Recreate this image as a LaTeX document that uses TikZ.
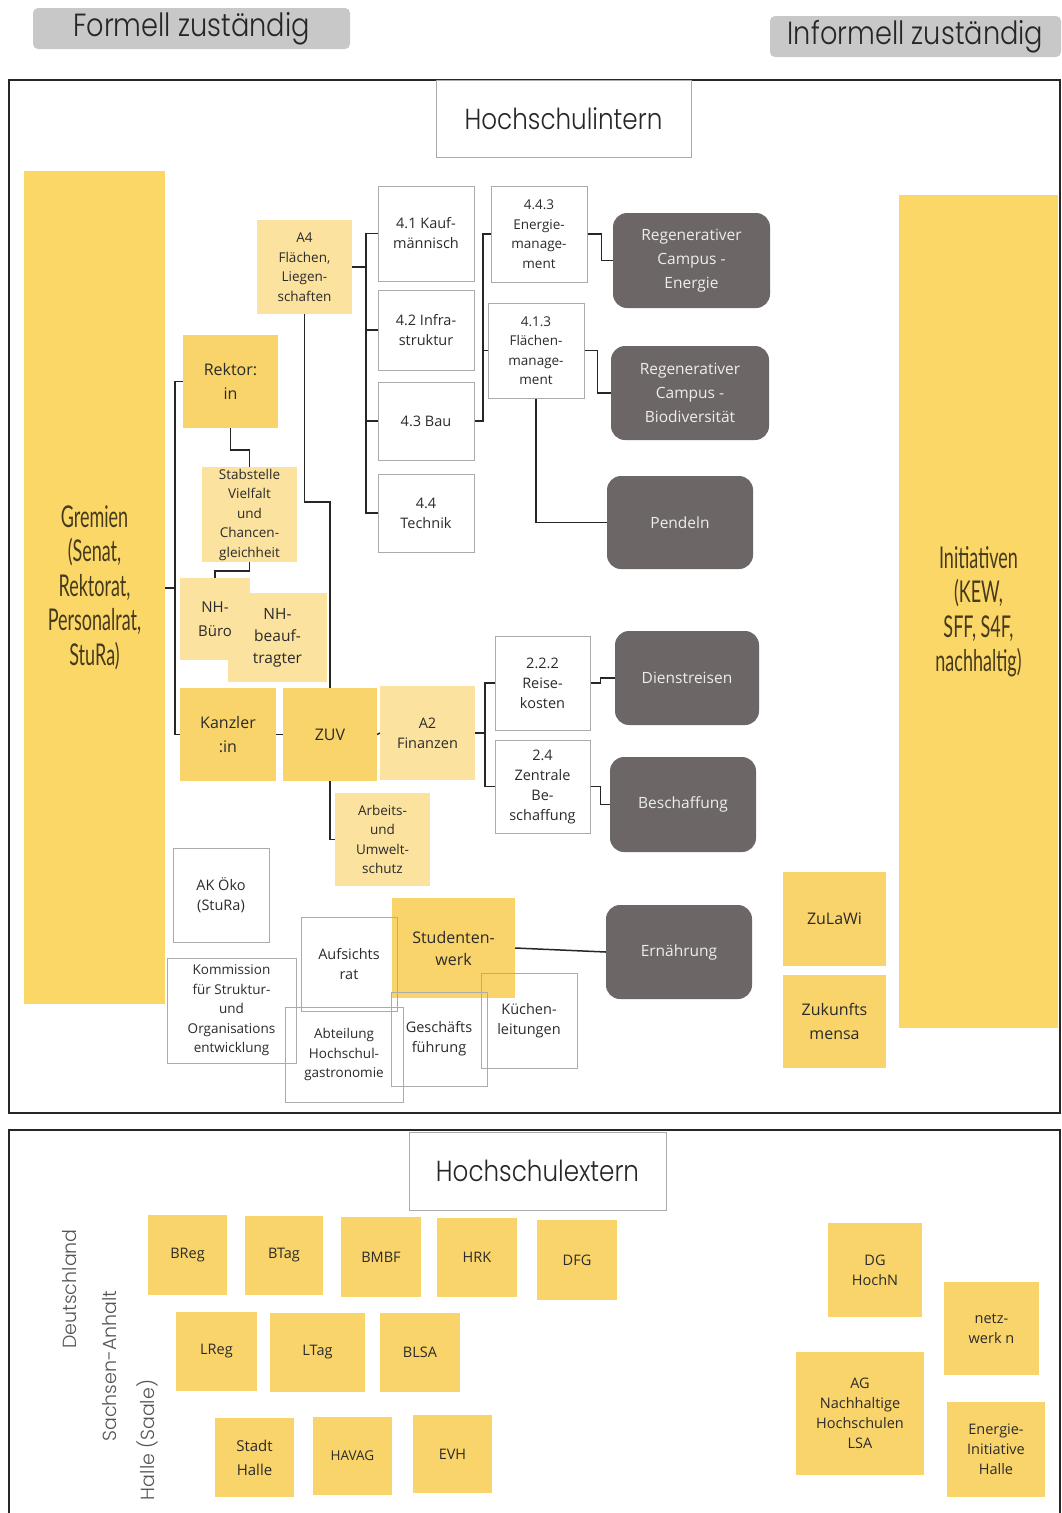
\documentclass[tikz,border=0pt]{standalone}
\usepackage{fontspec}
\setmainfont{Open Sans}
\newfontfamily\headfont[FakeStretch=0.85, UprightFont={* Light}]{Poppins}
\newfontfamily\geofont[UprightFont={* Light}]{Poppins}
\newfontfamily\condfont[FakeStretch=0.6]{Lato}
\definecolor{ystrong}{HTML}{F9D46A}
\definecolor{ylight}{HTML}{FBE29E}
\definecolor{ybig}{HTML}{FBD767}
\definecolor{darkbox}{HTML}{6C6766}
\definecolor{darktext}{HTML}{EDEDED}
\definecolor{boxline}{HTML}{ABABAB}
\definecolor{headgray}{HTML}{C8C8C8}
\definecolor{txt}{HTML}{2B2B2B}
\definecolor{bigtxt}{HTML}{453A1C}
\definecolor{sidetxt}{HTML}{555555}
\tikzset{
  base/.style={inner sep=0pt, align=center, text=txt, font=\fontsize{14.5}{20}\selectfont},
  fsmall/.style={font=\fontsize{13.5}{19.5}\selectfont},
  flarge/.style={font=\fontsize{16}{24}\selectfont},
  ys/.style={base, fill=ystrong},
  yl/.style={base, fill=ylight},
  wb/.style={base, draw=boxline, line width=1pt},
  db/.style={base, fill=darkbox, rounded corners=14pt, text=darktext, font=\fontsize{15.5}{24}\selectfont},
  hd/.style={inner sep=0pt, fill=headgray, rounded corners=5pt, text=black!85, font=\headfont\fontsize{32}{36}\selectfont},
  titlebox/.style={inner sep=0pt, draw=boxline, line width=1pt, fill=white, text=black!85, font=\headfont\fontsize{29}{32}\selectfont},
  bigy/.style={inner sep=0pt, align=center, fill=ybig, text=bigtxt, font=\condfont\fontsize{30}{34.5}\selectfont},
  side/.style={inner sep=0pt, rotate=90, text=sidetxt, font=\geofont\fontsize{19}{22}\selectfont},
  conn/.style={draw=black!85, line width=1.5pt},
  frame/.style={draw=black!85, line width=1.2pt}
}
\begin{document}
\begin{tikzpicture}[x=1pt,y=-1pt]
\useasboundingbox[fill=white] (0,0) rectangle (1061,1513);

% header labels
\node[hd, minimum width=317pt, minimum height=41pt] (formell) at (191.5,28.5) {\raisebox{-3pt}{Formell zuständig}};
\node[hd, minimum width=291pt, minimum height=41pt] (informell) at (915.5,36.5) {\raisebox{-3pt}{Informell zuständig}};

% frame 1
\draw[frame] (9,80) rectangle (1060,1113);
\node[titlebox, minimum width=255pt, minimum height=77pt] (hsintern) at (563.5,118.5) {Hochschulintern};

\node[bigy, minimum width=141pt, minimum height=833pt] (gremien) at (94.5,587.5) {Gremien\\(Senat,\\Rektorat,\\Personalrat,\\StuRa)};
\node[bigy, minimum width=159pt, minimum height=833pt] (initiativen) at (978.5,611.5) {Initiativen\\(KEW,\\SFF, S4F,\\nachhaltig)};

% yellow boxes
\node[yl, fsmall, minimum width=95pt, minimum height=94pt] (a4) at (304.5,267) {A4\\Flächen,\\Liegen-\\schaften};
\node[ys, flarge, minimum width=95pt, minimum height=93pt] (rektor) at (230.5,381.5) {Rektor:\\in};
\node[yl, fsmall, minimum width=95pt, minimum height=95pt] (stab) at (249.5,514.5) {Stabstelle\\Vielfalt\\und\\Chancen-\\gleichheit};
\node[yl, minimum width=99pt, minimum height=89pt, font=\fontsize{15.5}{22}\selectfont] (nhbe) at (277.5,637.5) {NH-\\beauf-\\tragter};
\node[yl, minimum width=70pt, minimum height=82pt, font=\fontsize{15}{24}\selectfont] (nhb) at (215,619) {NH-\\Büro};
\node[ys, flarge, minimum width=96pt, minimum height=93pt] (kanzler) at (228,734.5) {Kanzler\\:in};
\node[ys, flarge, minimum width=94pt, minimum height=93pt] (zuv) at (330,734.5) {ZUV};
\node[yl, minimum width=95pt, minimum height=94pt] (a2) at (427.5,733) {A2\\Finanzen};
\node[yl, fsmall, minimum width=95pt, minimum height=93pt] (arbeit) at (382.5,839.5) {Arbeits-\\und\\Umwelt-\\schutz};
\node[ys, minimum width=123pt, minimum height=100pt, font=\fontsize{16}{22}\selectfont] (stw) at (453.5,948) {Studenten-\\werk};
\node[ys, flarge, minimum width=103pt, minimum height=94pt] (zulawi) at (834.5,919) {ZuLaWi};
\node[ys, flarge, minimum width=103pt, minimum height=93pt] (zukm) at (834.5,1021.5) {Zukunfts\\mensa};

% white boxes
\node[wb, minimum width=96pt, minimum height=95pt] (k41) at (426,233.5) {4.1 Kauf-\\männisch};
\node[wb, minimum width=96pt, minimum height=80pt] (k42) at (426,330) {4.2 Infra-\\struktur};
\node[wb, minimum width=96pt, minimum height=78pt] (k43) at (426,421) {4.3 Bau};
\node[wb, minimum width=96pt, minimum height=78pt] (k44) at (426,513) {4.4\\Technik};
\node[wb, fsmall, minimum width=96pt, minimum height=96pt] (k443) at (539,234) {4.4.3\\Energie-\\manage-\\ment};
\node[wb, fsmall, minimum width=96pt, minimum height=95pt] (k413) at (536,350.5) {4.1.3\\Flächen-\\manage-\\ment};
\node[wb, minimum width=95pt, minimum height=94pt] (r222) at (542.5,683) {2.2.2\\Reise-\\kosten};
\node[wb, minimum width=95pt, minimum height=93pt] (z24) at (542.5,786.5) {2.4\\Zentrale\\Be-\\schaffung};
\node[wb, minimum width=96pt, minimum height=94pt] (akoeko) at (221,895) {AK Öko\\(StuRa)};
\node[wb, fsmall, minimum width=129pt, minimum height=105pt] (komm) at (231.5,1010.5) {Kommission\\für Struktur-\\und\\Organisations\\entwicklung};
\node[wb, minimum width=96pt, minimum height=94pt] (aufs) at (349,964) {Aufsichts\\rat};
\node[wb, fsmall, minimum width=118pt, minimum height=95pt] (abt) at (344,1054.5) {Abteilung\\Hochschul-\\gastronomie};
\node[wb, minimum width=96pt, minimum height=94pt] (gesch) at (439,1039) {Geschäfts\\führung};
\node[wb, minimum width=96pt, minimum height=95pt] (kuech) at (529,1020.5) {Küchen-\\leitungen};

% dark boxes
\node[db, minimum width=157pt, minimum height=95pt] (regE) at (691.5,260.5) {Regenerativer\\Campus -\\Energie};
\node[db, minimum width=158pt, minimum height=94pt] (regB) at (690,393) {Regenerativer\\Campus -\\Biodiversität};
\node[db, minimum width=146pt, minimum height=93pt] (pend) at (680,522.5) {Pendeln};
\node[db, minimum width=144pt, minimum height=94pt] (dienst) at (687,678) {Dienstreisen};
\node[db, minimum width=146pt, minimum height=95pt] (besch) at (683,804.5) {Beschaffung};
\node[db, minimum width=146pt, minimum height=94pt] (ern) at (679,952) {Ernährung};

% connectors
\coordinate (busA) at (366,0);
\coordinate (busB) at (483,0);
\coordinate (busC) at (485,0);
\coordinate (gstub) at (175,588);
\draw[conn] (a4.east) -- (a4.east -| busA);
\draw[conn] (k41.west) -| (busA |- k44.west) -- (k44.west);
\draw[conn] (k42.west) -- (k42.west -| busA);
\draw[conn] (k43.west) -- (k43.west -| busA);
\draw[conn] (k43.east) -| (busB |- k443.west) -- (k443.west);
\draw[conn] (k413.west) -- (k413.west -| busB);
\draw[conn] (k443.east) -- ++(14,0) |- (regE.west);
\draw[conn] (k413.east) -- ++(13,0) |- (regB.west);
\draw[conn] (k413.south) |- (pend.west);
\draw[conn] (rektor.west) -- ++(-8,0) |- (kanzler.west);
\draw[conn] (gremien.east |- gstub) -- (gstub);
\draw[conn] (rektor.south) -- ++(0,22) -| (stab.north);
\draw[conn] (stab.south) -- ++(0,9) -| (nhb.north);
\draw[conn] (a4.south) -- ++(0,188) -| (zuv.north);
\draw[conn] (kanzler.east) -- (zuv.west);
\draw[conn] (zuv.east) -- (a2.west);
\draw[conn] (a2.east) -- (a2.east -| busC);
\draw[conn] (r222.west) -| (busC |- z24.west) -- (z24.west);
\draw[conn] (r222.east) -- ++(10,0) |- (dienst.west);
\draw[conn] (z24.east) -- ++(10,0) |- (besch.west);
\draw[conn] (zuv.south) |- (arbeit.west);
\draw[conn] (stw.east) -- (ern.west);

% frame 2
\draw[frame] (9,1513) -- (9,1130) -- (1060,1130) -- (1060,1513);
\node[titlebox, minimum width=257pt, minimum height=78pt] (hsextern) at (537.5,1171) {Hochschulextern};

\node[side] (de) at (70,1289) {Deutschland};
\node[side] (sa) at (110,1366) {Sachsen-Anhalt};
\node[side] (ha) at (147,1440) {Halle (Saale)};

\node[ys, minimum width=79pt, minimum height=80pt] (breg) at (187.5,1255) {BReg};
\node[ys, minimum width=78pt, minimum height=79pt] (btag) at (284,1255.5) {BTag};
\node[ys, minimum width=80pt, minimum height=80pt] (bmbf) at (381,1257) {BMBF};
\node[ys, minimum width=80pt, minimum height=79pt] (hrk) at (477,1257.5) {HRK};
\node[ys, minimum width=80pt, minimum height=80pt] (dfg) at (577,1260) {DFG};
\node[ys, minimum width=81pt, minimum height=79pt] (lreg) at (216.5,1351.5) {LReg};
\node[ys, minimum width=95pt, minimum height=79pt] (ltag) at (317.5,1352.5) {LTag};
\node[ys, minimum width=80pt, minimum height=79pt] (blsa) at (420,1352.5) {BLSA};
\node[ys, minimum width=79pt, minimum height=79pt, font=\fontsize{15}{24}\selectfont] (stadt) at (254.5,1457.5) {Stadt\\Halle};
\node[ys, minimum width=79pt, minimum height=78pt, fsmall] (havag) at (352.5,1456) {HAVAG};
\node[ys, minimum width=79pt, minimum height=78pt] (evh) at (452.5,1454) {EVH};
\node[ys, minimum width=94pt, minimum height=94pt] (dghochn) at (875,1270) {DG\\HochN};
\node[ys, minimum width=95pt, minimum height=93pt] (netz) at (991.5,1328.5) {netz-\\werk n};
\node[ys, minimum width=128pt, minimum height=123pt] (agnh) at (860,1413.5) {AG\\Nachhaltige\\Hochschulen\\LSA};
\node[ys, minimum width=98pt, minimum height=95pt] (energieI) at (996,1449.5) {Energie-\\Initiative\\Halle};
\end{tikzpicture}
\end{document}
